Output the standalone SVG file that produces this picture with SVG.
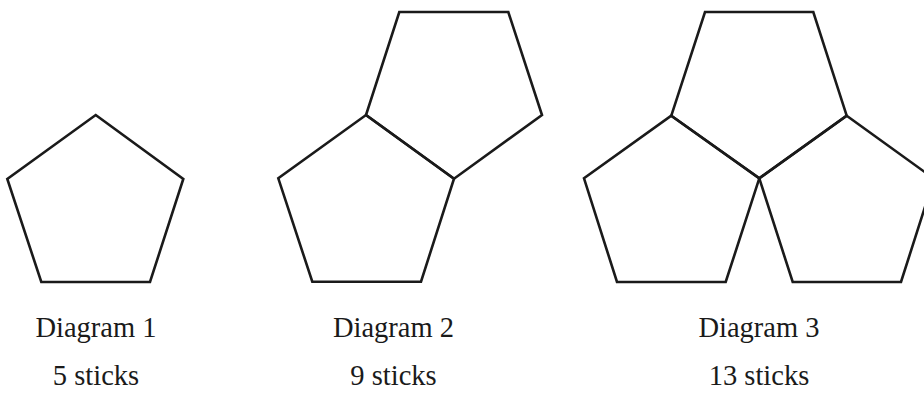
<svg xmlns="http://www.w3.org/2000/svg" width="924" height="397" viewBox="0 0 924 397">
<style>
.p{fill:none;stroke:#1a1a1a;stroke-width:2.6;stroke-linejoin:miter}
.t{font-family:"Liberation Serif","Times New Roman",serif;font-size:28.5px;fill:#1a1a1a;text-anchor:middle}
</style>
<rect width="924" height="397" fill="#fff"/>
<g id="diagram1">
<polygon class="p" points="95.7,115 183.3,179 150,282 41.3,282 7.3,179"/>
<text class="t" x="96" y="337">Diagram 1</text>
<text class="t" x="96" y="385">5 sticks</text>
</g>
<g id="diagram2">
<polygon class="p" points="399.3,12 508.3,12 542,115 454,178.7 366,115"/>
<polygon class="p" points="366,115 454,178.7 421,281.7 312.3,281.7 278.3,178.3"/>
<text class="t" x="393.5" y="337">Diagram 2</text>
<text class="t" x="393.5" y="385">9 sticks</text>
</g>
<g id="diagram3">
<polygon class="p" points="705,12 813.3,12 846.7,115.7 759.3,178.3 671.3,115.7"/>
<polygon class="p" points="671.3,115.7 759.3,178.3 725.7,282 617,282 584,178.3"/>
<polygon class="p" points="846.7,115.7 934,178.7 901,282 792.7,282 759.3,178.3"/>
<text class="t" x="759" y="337">Diagram 3</text>
<text class="t" x="759" y="385">13 sticks</text>
</g>
</svg>
